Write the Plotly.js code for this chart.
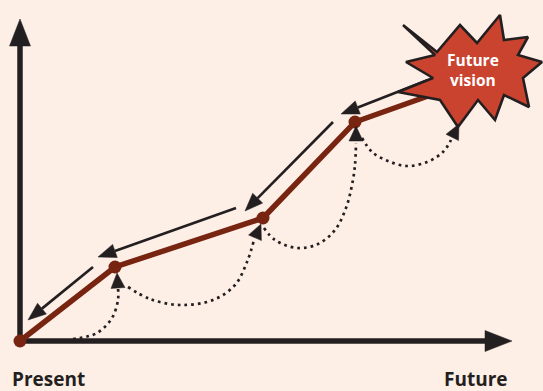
<!DOCTYPE html>
<html>
<head>
<meta charset="utf-8">
<script src="https://cdn.plot.ly/plotly-3.0.1.min.js"></script>
<style>html,body{margin:0;padding:0;background:#fdeee6;}#chart{width:543px;height:391px;}</style>
</head>
<body>
<div id="chart"></div>
<script>
// ---- Data (x = time from present, y = progress) ----
const pathX = [0, 95, 243, 335, 425];
const pathY = [0, 74, 123, 219, 251];
const milestoneCount = 4;

// black "look back" arrows: [startX, startY, tipX, tipY]
const backArrowStartX = [73, 216, 313, 408];
const backArrowStartY = [74, 133, 219, 261];
const backArrowTipX = [8, 78, 225, 321];
const backArrowTipY = [21, 84, 130, 227];

// dotted arcs and their arrow tips
const arc1X = [53, 77, 92, 98, 98];
const arc1Y = [2, 8, 23, 41, 53];
const arc2X = [108, 130, 160, 193, 215, 227, 234];
const arc2Y = [54, 42, 36, 41, 56, 79, 101];
const arc3X = [244, 255, 277, 298, 315, 326, 332, 335, 336];
const arc3Y = [113, 101, 93, 97, 111, 133, 156, 176, 198];
const arc4X = [342, 352, 368, 387, 407, 423, 431];
const arc4Y = [203, 189, 180, 175, 179, 189, 201];
const arcTipX = [97, 241, 336, 439];
const arcTipY = [68, 117, 215, 217];

// axes
const axisTipX = 492;
const axisTipY = 322;

// starburst outline
const burstX = [383, 417, 440, 457, 480, 484, 508, 498, 522, 503, 509, 484, 475, 458, 438, 420, 378, 413, 386, 415, 383];
const burstY = [316, 289, 316, 298, 326, 301, 304, 286, 279, 263, 234, 246, 221, 241, 214, 241, 249, 263, 279, 286, 316];

const labels = {present: 'Present', future: 'Future', vision: 'Future<br>vision'};

// ---- styles ----
const INK = '#231f20';
const BROWN = '#772410';
const BURST = '#c9432f';
const BG = '#fdeee6';

const traces = [];

function headPoly(tx, ty, fx, fy, L, W) {
  const dx = tx - fx, dy = ty - fy;
  const d = Math.hypot(dx, dy);
  const ux = dx / d, uy = dy / d;
  const bx = tx - ux * L, by = ty - uy * L;
  const nx = -uy, ny = ux;
  return {
    x: [tx, bx + nx * W / 2, bx - nx * W / 2, tx],
    y: [ty, by + ny * W / 2, by - ny * W / 2, ty],
    bx: bx, by: by
  };
}
function addHead(h) {
  traces.push({x: h.x, y: h.y, mode: 'lines', fill: 'toself', fillcolor: INK,
    line: {color: INK, width: 0.5}, hoverinfo: 'skip', showlegend: false});
}

// dotted arcs
const arcs = [[arc1X, arc1Y], [arc2X, arc2Y], [arc3X, arc3Y], [arc4X, arc4Y]];
arcs.forEach(function (a) {
  traces.push({x: a[0], y: a[1], mode: 'lines',
    line: {color: INK, width: 2.7, dash: '2.7px,4px', shape: 'spline', smoothing: 1},
    hoverinfo: 'skip', showlegend: false});
});

// black back arrows
for (let i = 0; i < backArrowTipX.length; i++) {
  const h = headPoly(backArrowTipX[i], backArrowTipY[i], backArrowStartX[i], backArrowStartY[i], 18, 14);
  traces.push({x: [backArrowStartX[i], h.bx], y: [backArrowStartY[i], h.by], mode: 'lines',
    line: {color: INK, width: 2.6}, hoverinfo: 'skip', showlegend: false});
  addHead(h);
}

// axes
const yHead = headPoly(0, axisTipY, 0, 0, 27, 21);
const xHead = headPoly(axisTipX, 0, 0, 0, 27, 21);
traces.push({x: [0, 0], y: [0, yHead.by + 1], mode: 'lines', line: {color: INK, width: 5.5}, hoverinfo: 'skip', showlegend: false});
traces.push({x: [0, xHead.bx + 1], y: [0, 0], mode: 'lines', line: {color: INK, width: 5.5}, hoverinfo: 'skip', showlegend: false});
addHead(yHead);
addHead(xHead);

// main path
traces.push({x: pathX, y: pathY, mode: 'lines', line: {color: BROWN, width: 5.5}, hoverinfo: 'skip', showlegend: false});
traces.push({x: pathX.slice(0, milestoneCount), y: pathY.slice(0, milestoneCount), mode: 'markers',
  marker: {color: BROWN, size: 13, line: {width: 0}}, hoverinfo: 'skip', showlegend: false});

// starburst
traces.push({x: burstX, y: burstY, mode: 'lines', fill: 'toself', fillcolor: BURST,
  line: {color: INK, width: 2.6}, hoverinfo: 'skip', showlegend: false});

// arc arrowheads (on top)
for (let i = 0; i < arcTipX.length; i++) {
  const ax = arcs[i][0], ay = arcs[i][1];
  const n = ax.length;
  addHead(headPoly(arcTipX[i], arcTipY[i], ax[n - 1], ay[n - 1], 15, 14));
}

const FONT = 'Open Sans, Noto Sans, sans-serif';
const layout = {
  width: 543, height: 391,
  margin: {l: 0, r: 0, t: 0, b: 0},
  paper_bgcolor: BG, plot_bgcolor: BG,
  showlegend: false,
  xaxis: {range: [-20, 523], visible: false, fixedrange: true},
  yaxis: {range: [-50, 341], visible: false, fixedrange: true},
  annotations: [
    {x: 28, y: -38, xref: 'x', yref: 'y', text: '<b>' + labels.present + '</b>', showarrow: false,
      font: {family: FONT, size: 19, color: INK}},
    {x: 456, y: -38, xref: 'x', yref: 'y', text: '<b>' + labels.future + '</b>', showarrow: false,
      font: {family: FONT, size: 19, color: INK}},
    {x: 453, y: 271, xref: 'x', yref: 'y', text: '<b>' + labels.vision + '</b>', showarrow: false,
      font: {family: FONT, size: 15.5, color: '#ffffff'}}
  ]
};

Plotly.newPlot('chart', traces, layout, {staticPlot: true, displayModeBar: false});
</script>
</body>
</html>
